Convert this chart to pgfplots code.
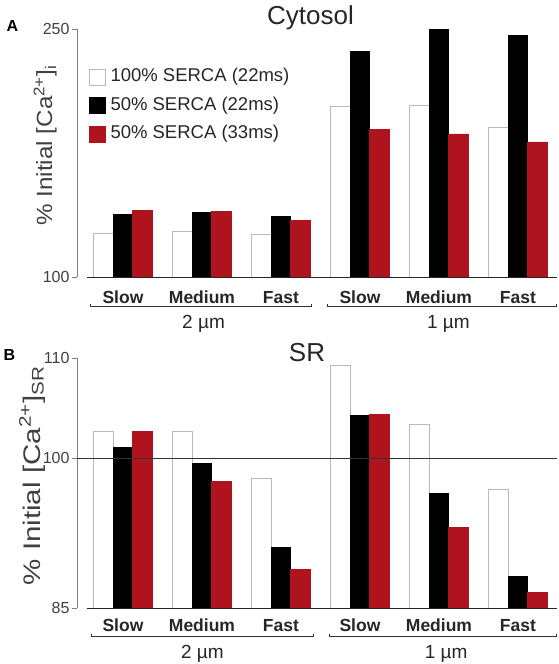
\documentclass[border=0pt]{standalone}
\usepackage{fontspec}
\setmainfont{Liberation Sans}
\usepackage{pgfplots}
\usepackage{pgfplotstable}
\pgfplotsset{compat=1.18}
\definecolor{sred}{RGB}{175,20,30}
\definecolor{axgray}{RGB}{125,125,125}

\pgfplotstableread{
x  w     b     r
0  126.6 137.9 140.5
1  127.8 139.1 139.9
2  125.8 136.5 134.3
3  203.0 236.3 189.5
4  203.9 249.8 186.5
5  190.3 246.0 181.7
}\cyto

\pgfplotstableread{
x  w      b      r
0  102.66 101.06 102.66
1  102.66 99.5   97.73
2  98.0   91.1   88.9
3  109.26 104.3  104.43
4  103.36 96.53  93.06
5  96.9   88.16  86.56
}\srtab

\pgfplotsset{
  panel/.style={
    scale only axis, width=480pt,
    xmin=-0.582, xmax=5.494,
    ybar=0pt, bar width=19.5pt,
    clip mode=individual,
    axis x line*=bottom, axis y line*=left,
    x axis line style={draw=none},
    y axis line style={axgray, line width=0.9pt},
    xtick={0,...,5},
    xticklabels={Slow,Medium,Fast,Slow,Medium,Fast},
    xtick style={draw=none},
    ytick style={axgray, line width=0.9pt},
    major tick length=5pt, tick align=outside,
    xticklabel style={font=\bfseries\fontsize{17.5}{17.5}\selectfont, anchor=base, text=black!85},
    yticklabel style={font=\fontsize{16}{16}\selectfont, text=black!75, xshift=1pt},
    /pgf/number format/assume math mode=true,
  },
  wbar/.style={fill=white, draw=gray!55, line width=0.6pt},
  kbar/.style={fill=black, draw=black, line width=0.6pt},
  rbar/.style={fill=sred, draw=sred, line width=0.6pt},
}

\begin{document}
\begin{tikzpicture}
\useasboundingbox (0,0) rectangle (559pt,-664pt);

% ---------------- Panel A ----------------
\begin{axis}[panel,
  at={(77pt,-277pt)}, anchor=south west,
  height=248pt, ymin=100, ymax=250, ytick={100,250},
  xticklabel style={yshift=-21pt},
  ylabel={\scalebox{1.1}[1]{\% Initial [Ca\textsuperscript{2+}]\textsubscript{i}}},
  every axis y label/.style={at={(rel axis cs:0,0.53)}, xshift=-25pt, rotate=90, anchor=base,
     font=\fontsize{22}{22}\selectfont, text=black!75},
  legend style={at={(rel axis cs:0,1)}, anchor=north west, xshift=12pt, yshift=-37pt,
     draw=none, fill=none, font=\fontsize{18.5}{18.5}\selectfont, row sep=7pt,
     inner sep=0pt, nodes={inner sep=2pt, text height=13.5pt, text depth=4pt, text=black!85}},
  legend cell align=left,
  legend image code/.code={\draw[#1] (0pt,-8pt) rectangle (16pt,8pt); \path[draw=none, fill=none] (0pt,0pt) -- (19pt,0pt);},
]
\addplot[wbar] table[x=x, y=w] {\cyto};
\addplot[kbar] table[x=x, y=b] {\cyto};
\addplot[rbar] table[x=x, y=r] {\cyto};
\legend{100\% SERCA (22ms), 50\% SERCA (22ms), 50\% SERCA (33ms)}
\draw[black!85, line width=0.8pt] (axis cs:-0.456,100) -- (axis cs:5.494,100);
\draw[black!80, line width=0.7pt] ([yshift=-26.7pt]axis cs:-0.418,100) -- ([yshift=-29.7pt]axis cs:-0.418,100)
   -- ([yshift=-29.7pt]axis cs:2.389,100) -- ([yshift=-26.7pt]axis cs:2.389,100);
\draw[black!80, line width=0.7pt] ([yshift=-26.7pt]axis cs:2.591,100) -- ([yshift=-29.7pt]axis cs:2.591,100)
   -- ([yshift=-29.7pt]axis cs:5.48,100) -- ([yshift=-26.7pt]axis cs:5.48,100);
\node[anchor=base, font=\fontsize{19}{19}\selectfont, text=black!85] at ([yshift=-51pt]axis cs:1.02,100) {2 µm};
\node[anchor=base, font=\fontsize{19}{19}\selectfont, text=black!85] at ([yshift=-51pt]axis cs:4.12,100) {1 µm};
\end{axis}

% ---------------- Panel B ----------------
\begin{axis}[panel,
  at={(77pt,-608.3pt)}, anchor=south west,
  height=250pt, ymin=85, ymax=110, ytick={85,100,110},
  xticklabel style={yshift=-18.4pt},
  ylabel={\scalebox{1.23}[1]{\% Initial [Ca\textsuperscript{2+}]\textsubscript{SR}}},
  every axis y label/.style={at={(rel axis cs:0,0.53)}, xshift=-37pt, rotate=90, anchor=base,
     font=\fontsize{24}{24}\selectfont, text=black!75},
]
\addplot[wbar] table[x=x, y=w] {\srtab};
\addplot[kbar] table[x=x, y=b] {\srtab};
\addplot[rbar] table[x=x, y=r] {\srtab};
\draw[black!80, line width=0.6pt] (axis cs:-0.582,100) -- (axis cs:5.494,100);
\draw[black!85, line width=0.8pt] (axis cs:-0.456,85) -- (axis cs:5.494,85);
\draw[black!80, line width=0.7pt] ([yshift=-25.4pt]axis cs:-0.40,85) -- ([yshift=-28.4pt]axis cs:-0.40,85)
   -- ([yshift=-28.4pt]axis cs:2.405,85) -- ([yshift=-25.4pt]axis cs:2.405,85);
\draw[black!80, line width=0.7pt] ([yshift=-25.4pt]axis cs:2.61,85) -- ([yshift=-28.4pt]axis cs:2.61,85)
   -- ([yshift=-28.4pt]axis cs:5.49,85) -- ([yshift=-25.4pt]axis cs:5.49,85);
\node[anchor=base, font=\fontsize{19}{19}\selectfont, text=black!85] at ([yshift=-50pt]axis cs:1.006,85) {2 µm};
\node[anchor=base, font=\fontsize{19}{19}\selectfont, text=black!85] at ([yshift=-50pt]axis cs:4.09,85) {1 µm};
\end{axis}

\node[anchor=base, font=\fontsize{26}{26}\selectfont, text=black!85] at (310.5pt,-24pt) {Cytosol};
\node[anchor=base, font=\fontsize{26}{26}\selectfont, text=black!85] at (307pt,-361.7pt) {SR};
\node[anchor=base west, font=\bfseries\fontsize{16}{16}\selectfont] at (3pt,-31.7pt) {A};
\node[anchor=base west, font=\bfseries\fontsize{16}{16}\selectfont] at (0pt,-360pt) {B};
\end{tikzpicture}
\end{document}
